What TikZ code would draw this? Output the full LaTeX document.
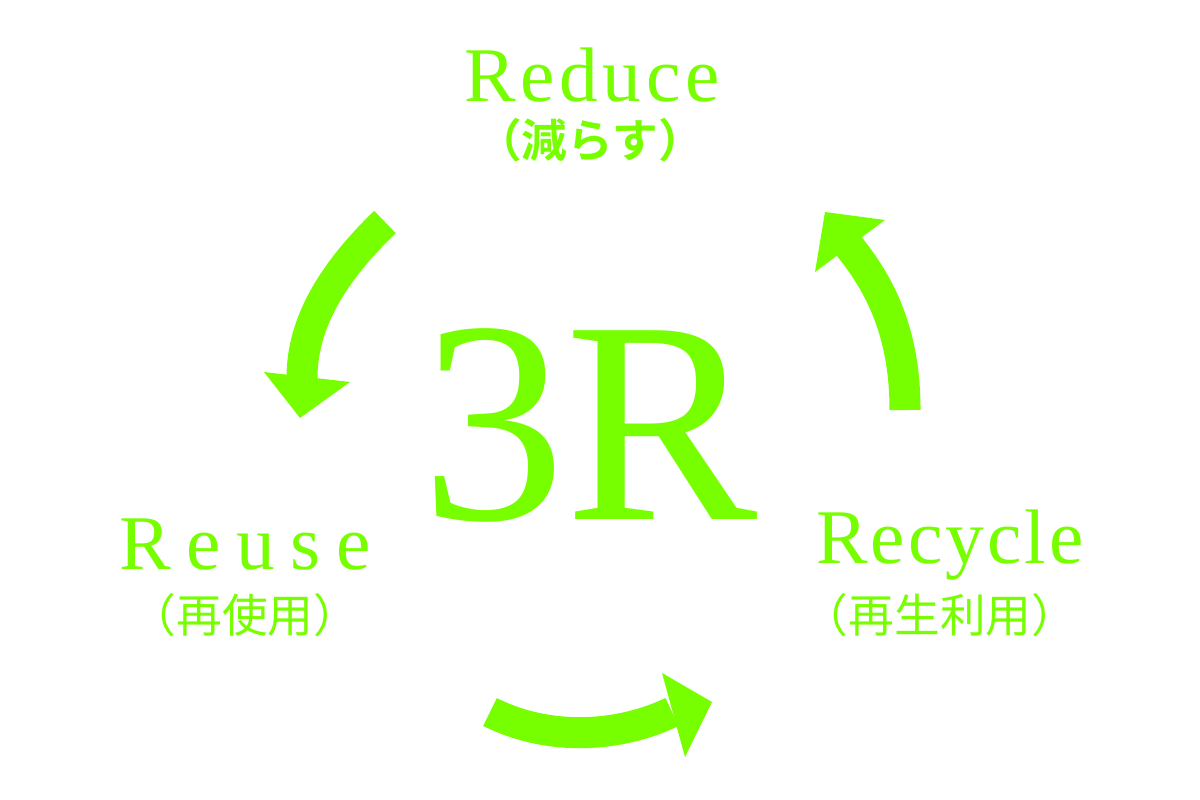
\documentclass[tikz,border=0pt]{standalone}
\usepackage{fontspec}
\setmainfont{Liberation Serif}
\newfontfamily\jp{Noto Sans CJK JP}[BoldFont={* Bold}]
\definecolor{lg}{HTML}{77FF00}
\begin{document}
\begin{tikzpicture}[x=0.01cm,y=-0.01cm,
  lab/.style={text=lg,inner sep=0},
  body/.style={draw=lg,line width=0.31cm},
  head/.style={fill=lg}]
\useasboundingbox (0,0) rectangle (1200,800);
\node[lab,font=\fontsize{22}{26}\selectfont\addfontfeature{LetterSpace=6}] (reduce) at (592,75) {Reduce};
\node[lab,font=\jp\bfseries\fontsize{13}{16}\selectfont] (reducej) at (590,140) {（減らす）};
\node[lab,font=\fontsize{82}{90}\selectfont] (three) at (590,425) {3R};
\node[lab,font=\fontsize{22}{26}\selectfont\addfontfeature{LetterSpace=20}] (reuse) at (245,545) {Reuse};
\node[lab,font=\jp\fontsize{13}{16}\selectfont] (reusej) at (245,615) {（再使用）};
\node[lab,font=\fontsize{22}{26}\selectfont\addfontfeature{LetterSpace=4}] (recycle) at (950,545) {Recycle};
\node[lab,font=\jp\fontsize{13}{16}\selectfont] (recyclej) at (940,615) {（再生利用）};
% left arrow
\draw[body] (385,222) .. controls (330,275) and (302,325) .. (302,378);
\fill[head] (264,372) -- (350,382) -- (300,418) -- cycle;
% right arrow
\draw[body] (905,410) .. controls (905,340) and (885,290) .. (848,245);
\fill[head] (815,272) -- (885,220) -- (825,212) -- cycle;
% bottom arrow
\draw[body] (490,712) .. controls (550,742) and (620,737) .. (672,712);
\fill[head] (662,673) -- (712,702) -- (685,757) -- cycle;
\end{tikzpicture}
\end{document}
